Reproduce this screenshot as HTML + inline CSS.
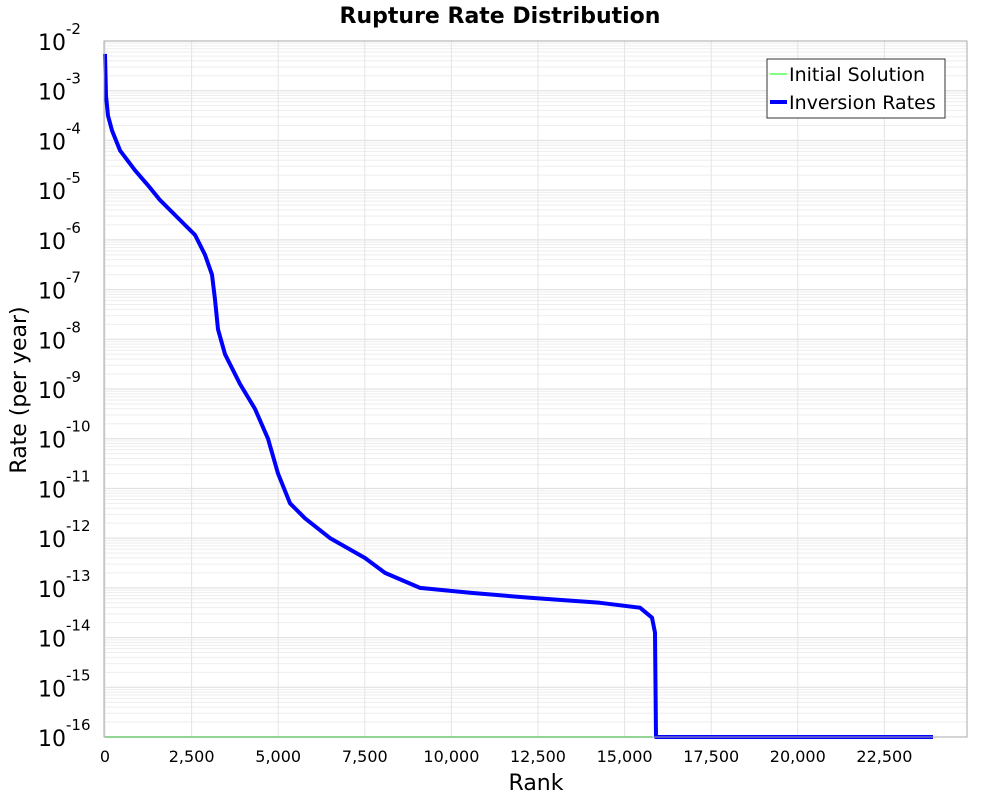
<!DOCTYPE html>
<html><head><meta charset="utf-8"><style>
body{margin:0;background:#fff;font-family:"Liberation Sans","DejaVu Sans",sans-serif}
</style></head><body>
<svg id="chart" width="1000" height="800" xmlns="http://www.w3.org/2000/svg" font-family="DejaVu Sans, Liberation Sans, sans-serif">
<text x="500" y="23" text-anchor="middle" font-size="22" font-weight="bold">Rupture Rate Distribution</text>
<g id="grid"></g>
<g id="marks"></g>
<rect x="104" y="41" width="863" height="696" fill="none" stroke="#aaa"/>
<g id="axes"></g>
<text x="536" y="790" text-anchor="middle" font-size="22">Rank</text>
<text transform="translate(26,390) rotate(-90)" text-anchor="middle" font-size="22">Rate (per year)</text>
<g>
<rect x="767" y="59" width="178" height="59" fill="#fff" stroke="#333"/>
<line x1="770" y1="74" x2="787" y2="74" stroke="#00ff00" stroke-width="1"/>
<text x="789" y="81" font-size="19">Initial Solution</text>
<line x1="770" y1="102" x2="787" y2="102" stroke="#0000ff" stroke-width="4"/>
<text x="789" y="109" font-size="19">Inversion Rates</text>
</g>
</svg>
<script>
const ranks=[0,29,87,202,433,866,1299,1588,2165,2598,2887,3089,3175,3262,3464,3897,4330,4705,4994,5341,5774,6496,7506,8083,9094,10537,12269,14290,15445,15791,15878,15907,15910,23903];
const logRates=[-2.26,-3.1,-3.5,-3.8,-4.2,-4.6,-4.95,-5.2,-5.6,-5.9,-6.3,-6.7,-7.2,-7.8,-8.3,-8.9,-9.4,-10.0,-10.7,-11.3,-11.6,-12.0,-12.4,-12.7,-13.0,-13.1,-13.2,-13.3,-13.4,-13.6,-13.9,-16,-16,-16];
const initRanks=[0,15800];
const initLogRates=[-16,-16];
const xTicks=[0,2500,5000,7500,10000,12500,15000,17500,20000,22500];
const xTickLabels=["0","2,500","5,000","7,500","10,000","12,500","15,000","17,500","20,000","22,500"];
const yDecades=[-2,-3,-4,-5,-6,-7,-8,-9,-10,-11,-12,-13,-14,-15,-16];
const NS="http://www.w3.org/2000/svg";
const X0=105,XS=0.03464,YT=41,YB=737,DMAX=-2,DMIN=-16;
const xs=v=>X0+v*XS;
const ys=l=>YT+(DMAX-l)/(DMAX-DMIN)*(YB-YT);
const grid=document.getElementById('grid'),axes=document.getElementById('axes'),marks=document.getElementById('marks');
function mk(t,a,p){const e=document.createElementNS(NS,t);for(const k in a)e.setAttribute(k,a[k]);p.appendChild(e);return e;}
for(let d=DMIN;d<DMAX;d++){for(let m=1;m<10;m++){const y=ys(d+Math.log10(m));
const g=mk('line',{x1:104,x2:967,y1:y,y2:y,stroke:m==1?'#ddd':'#eee','stroke-width':1},grid);

}}
for(let v=0;v<=25000;v+=2500){const x=xs(v);if(x>967)break;
const g=mk('line',{x1:x,x2:x,y1:41,y2:737,stroke:'#e4e4e4'},grid);

}
xTicks.forEach((v,i)=>{const t=mk('text',{x:xs(v),y:762,'text-anchor':'middle','font-size':16},axes);t.textContent=xTickLabels[i];

});
yDecades.forEach(d=>{const y=ys(d);const t=mk('text',{x:38,y:y+9,'font-size':22},axes);


t.textContent='10';const s=mk('tspan',{dy:-16,'font-size':15},t);s.textContent=String(d);});
const pl=(r,l)=>r.map((v,i)=>xs(v).toFixed(1)+','+ys(l[i]).toFixed(1)).join(' ');
const g1=mk('polyline',{points:pl(initRanks,initLogRates),fill:'none',stroke:'#00ff00','stroke-width':1.5},marks);


const b=mk('polyline',{points:pl(ranks,logRates),fill:'none',stroke:'#0000ff','stroke-width':4,'stroke-linejoin':'round'},marks);


</script>
</body></html>
